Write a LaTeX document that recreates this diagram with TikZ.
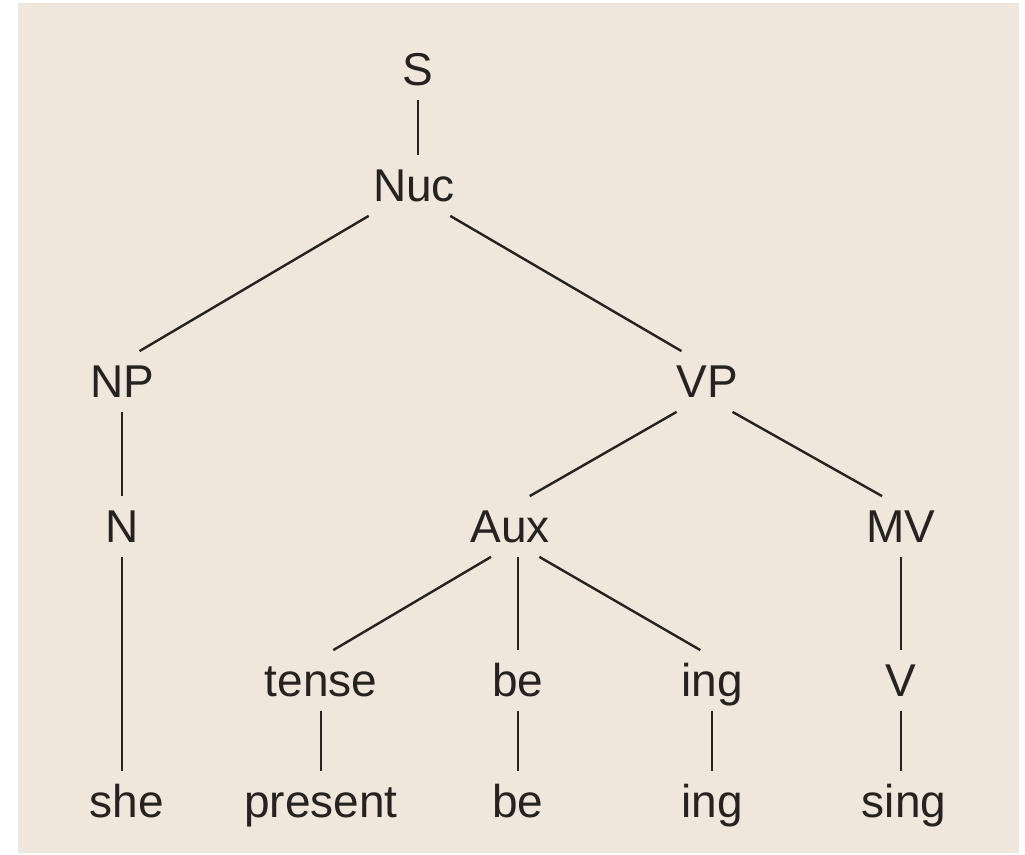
\documentclass[tikz,border=0pt]{standalone}
\usepackage{fontspec}
\setmainfont{Liberation Sans}
\definecolor{paper}{RGB}{239,231,220}
\definecolor{ink}{RGB}{38,34,30}
\tikzset{
	lbl/.style={anchor=base, inner xsep=2pt, inner ysep=6.75pt, text height=16.5pt, text depth=0pt, text=ink, font=\fontsize{23pt}{27pt}\selectfont},
	branch/.style={draw=ink, line width=1.2pt}
}
\begin{document}
\begin{tikzpicture}[x=0.5pt,y=-0.5pt]
		\fill[white] (0,0) rectangle (1025,855);
		\fill[paper] (18,3) rectangle (1019,853);
		\node[lbl] (S) at (418,86) {S};
		\node[lbl] (Nuc) at (414,202) {Nuc};
		\node[lbl] (NP) at (122,398) {NP};
		\node[lbl] (VP) at (707,398) {VP};
		\node[lbl] (N) at (122,543) {N};
		\node[lbl] (Aux) at (510,543) {Aux};
		\node[lbl] (MV) at (901,543) {MV};
		\node[lbl] (tense) at (321,697) {tense};
		\node[lbl] (be) at (518,697) {be};
		\node[lbl] (ing) at (712,697) {ing};
		\node[lbl] (V) at (901,697) {V};
		\node[lbl] (she) at (127,818) {she};
		\node[lbl] (present) at (321,818) {present};
		\node[lbl] (be2) at (518,818) {be};
		\node[lbl] (ing2) at (712,818) {ing};
		\node[lbl] (sing) at (904,818) {sing};
		\draw[branch] (S) -- (S |- Nuc.north);
		\draw[branch] (Nuc.south west) -- (NP.60);
		\draw[branch] (Nuc.-40) -- (VP.130);
		\draw[branch] (NP) -- (N);
		\draw[branch] (N) -- (N |- she.north);
		\draw[branch] (VP.-135) -- (Aux.57);
		\draw[branch] (VP.-50) -- (MV.122);
		\draw[branch] (Aux.-122) -- (tense.68);
		\draw[branch] (be |- Aux.south) -- (be);
		\draw[branch] (Aux.-46) -- (ing.111);
		\draw[branch] (MV) -- (V);
		\draw[branch] (tense) -- (present);
		\draw[branch] (be) -- (be2);
		\draw[branch] (ing) -- (ing2);
		\draw[branch] (V) -- (V |- sing.north);
	\end{tikzpicture}
\end{document}
